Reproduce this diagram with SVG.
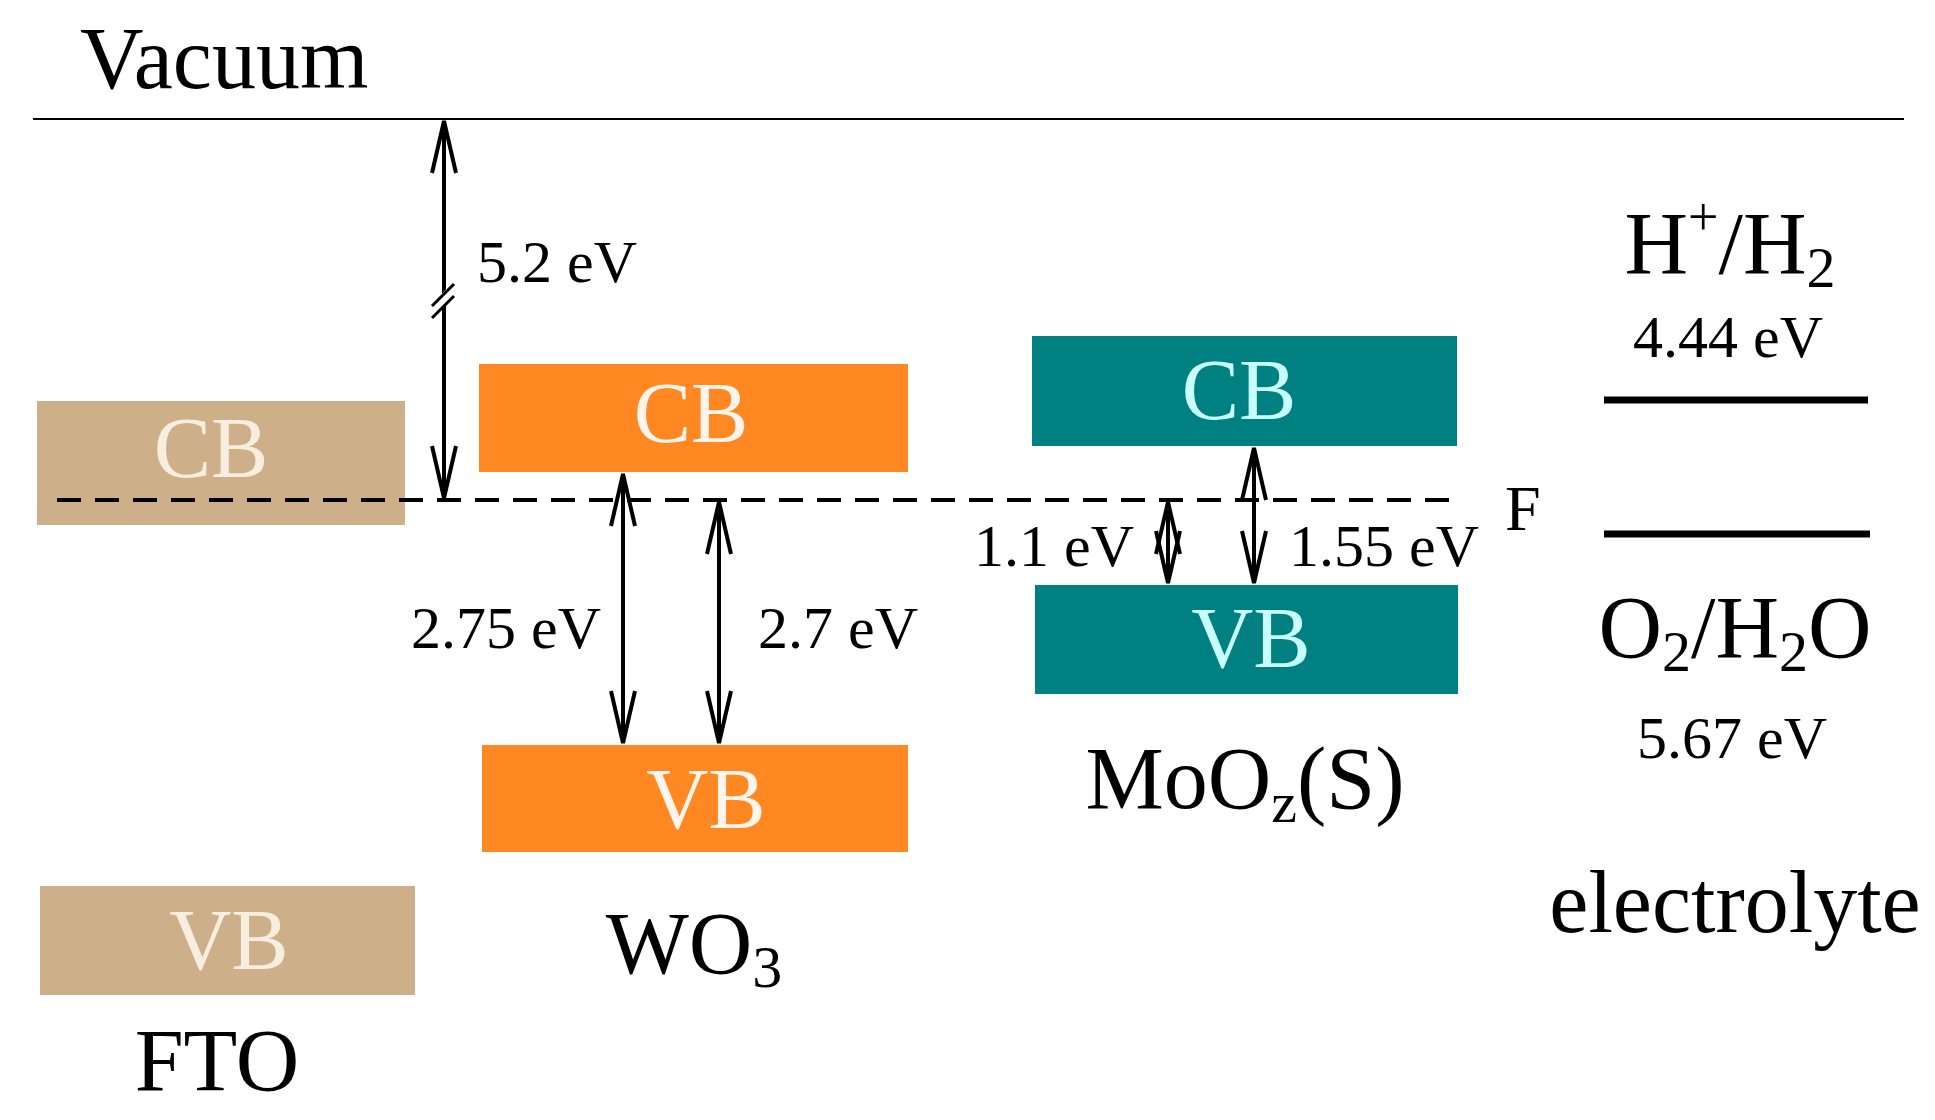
<svg xmlns="http://www.w3.org/2000/svg" width="1935" height="1120" viewBox="0 0 1935 1120">
<defs>
<marker id="ah" viewBox="0 0 56 30" refX="54" refY="15" markerWidth="56" markerHeight="30" markerUnits="userSpaceOnUse" orient="auto-start-reverse">
<path d="M2,3 L54,15 L2,27" fill="none" stroke="#000" stroke-width="4"/>
</marker>
<style>
text{font-family:"Liberation Serif","Times New Roman",serif;}
.big{font-size:88px}
.ev{font-size:60px}
.bl{font-size:86px;text-anchor:middle}
.arr{stroke:#000;stroke-width:4;fill:none;marker-start:url(#ah);marker-end:url(#ah)}
</style>
</defs>
<rect width="1935" height="1120" fill="#fff"/>
<g id="vacuum">
<line x1="33" y1="119" x2="1904" y2="119" stroke="#000" stroke-width="2"/>
<text x="80" y="88" class="big">Vacuum</text>
</g>
<g id="fto">
<rect x="37" y="401" width="368" height="124" fill="#CDB08A"/>
<text x="211" y="477" class="bl" fill="#F8EEDF">CB</text>
<rect x="40" y="886" width="375" height="109" fill="#CDB08A"/>
<text x="229" y="969" class="bl" fill="#F8EEDF">VB</text>
<text x="217" y="1090" class="big" text-anchor="middle">FTO</text>
</g>
<g id="fermi">
<line x1="57" y1="500" x2="1462" y2="500" stroke="#000" stroke-width="4" stroke-dasharray="24,14"/>
<text x="1505" y="530" font-size="64">F</text>
</g>
<g id="wo3">
<rect x="479" y="364" width="429" height="108" fill="#FF8822"/>
<text x="691" y="442" class="bl" fill="#FFF5EC">CB</text>
<rect x="482" y="745" width="426" height="107" fill="#FF8822"/>
<text x="706" y="828" class="bl" fill="#FFF5EC">VB</text>
<text x="694" y="973" class="big" text-anchor="middle">WO<tspan font-size="60" dy="14">3</tspan></text>
</g>
<g id="moo">
<rect x="1032" y="336" width="425" height="110" fill="#008080"/>
<text x="1239" y="419" class="bl" fill="#C8FFFF">CB</text>
<rect x="1035" y="585" width="423" height="109" fill="#008080"/>
<text x="1251" y="667" class="bl" fill="#C8FFFF">VB</text>
<text x="1245" y="808" class="big" text-anchor="middle">MoO<tspan font-size="58" dy="14">z</tspan><tspan dy="-14">(S)</tspan></text>
</g>
<g id="electrolyte">
<text x="1730" y="273" class="big" text-anchor="middle">H<tspan font-size="54" dy="-38">+</tspan><tspan dy="38">/H</tspan><tspan font-size="58" dy="14">2</tspan></text>
<text x="1728" y="357" class="ev" text-anchor="middle">4.44 eV</text>
<line x1="1604" y1="400" x2="1868" y2="400" stroke="#000" stroke-width="7"/>
<line x1="1604" y1="534" x2="1870" y2="534" stroke="#000" stroke-width="7"/>
<text x="1735" y="657" class="big" text-anchor="middle">O<tspan font-size="58" dy="14">2</tspan><tspan dy="-14">/H</tspan><tspan font-size="58" dy="14">2</tspan><tspan dy="-14">O</tspan></text>
<text x="1732" y="758" class="ev" text-anchor="middle">5.67 eV</text>
<text x="1735" y="932" class="big" text-anchor="middle">electrolyte</text>
</g>
<g id="connectors">
<line x1="444" y1="121" x2="444" y2="498" class="arr"/>
<line x1="432" y1="312" x2="452" y2="290" stroke="#fff" stroke-width="10"/>
<line x1="432" y1="306" x2="454" y2="284" stroke="#000" stroke-width="3"/>
<line x1="432" y1="318" x2="454" y2="296" stroke="#000" stroke-width="3"/>
<line x1="623" y1="474" x2="623" y2="743" class="arr"/>
<line x1="719" y1="502" x2="719" y2="743" class="arr"/>
<line x1="1168" y1="502" x2="1168" y2="583" class="arr" stroke-width="6"/>
<line x1="1254" y1="448" x2="1254" y2="583" class="arr" stroke-width="5"/>
</g>
<g id="labels">
<text x="477" y="282" class="ev">5.2 eV</text>
<text x="601" y="648" class="ev" text-anchor="end">2.75 eV</text>
<text x="758" y="648" class="ev">2.7 eV</text>
<text x="1134" y="566" class="ev" text-anchor="end">1.1 eV</text>
<text x="1289" y="566" class="ev">1.55 eV</text>
</g>
</svg>
